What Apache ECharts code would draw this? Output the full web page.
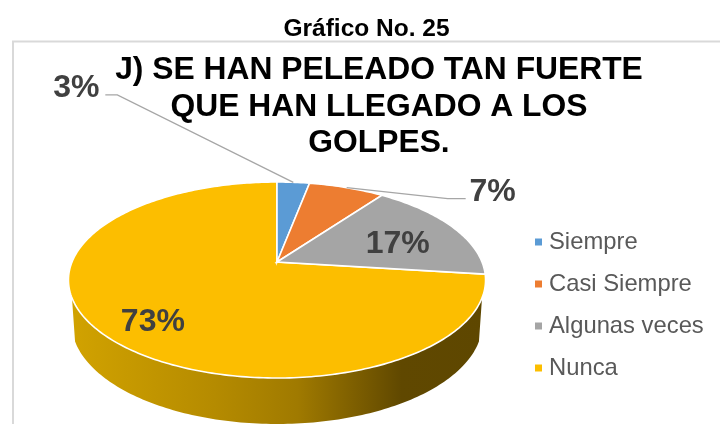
<!DOCTYPE html>
<html><head><meta charset="utf-8">
<style>html,body{margin:0;padding:0;background:#fff}#c{width:720px;height:424px}</style>
<script src="https://cdn.jsdelivr.net/npm/echarts@6/dist/echarts.min.js"></script>
</head><body><div id="c"></div>
<script>
const categories = ['Siempre', 'Casi Siempre', 'Algunas veces', 'Nunca'];
const values = [3, 7, 17, 73];
const colors = ['#5B9BD5', '#ED7D31', '#A5A5A5', '#FCBE00'];
const chartTitle = 'J) SE HAN PELEADO TAN FUERTE\nQUE HAN LLEGADO A LOS\nGOLPES.';
const figureTitle = 'Gráfico No. 25';

const FONT = '"Liberation Sans", Arial, sans-serif';
const P = {cx: 277, cy: 262, R: 205, a: 94.7, c: -0.1837, depth: 42.5};
// perspective projection of a point on the pie's rim (angle clockwise from 12 o'clock)
function rim(deg, k) {
  const t = deg * Math.PI / 180, u = Math.sin(t) * (k === undefined ? 1 : k), v = -Math.cos(t) * (k === undefined ? 1 : k);
  const w = 1 + P.c * v;
  return [P.cx + P.R * u / w, P.cy + P.a * v / w];
}
function arc(from, to) {
  const pts = [], n = Math.max(2, Math.ceil(Math.abs(to - from)));
  for (let i = 0; i <= n; i++) pts.push(rim(from + (to - from) * i / n));
  return pts;
}
const cumBefore = values.map((_, i) => values.slice(0, i).reduce((s, x) => s + x, 0));
const total = values.reduce((s, x) => s + x, 0);
const wallStops = [[0, '#D2A300'], [0.35, '#B58B00'], [0.55, '#A07A00'], [0.7, '#7A5C00'], [0.8, '#604800'], [1, '#5E4700']];
// label placement per slice: offset from the rim midpoint (leader) or inner radius (inside)
const labelPlacement = [
  {dx: -217, dy: -94, leader: [[-176, -87.5], [-188, -87.5]]},
  {dx: 146, dy: 5, leader: [[101, 11], [119, 11]]},
  {inner: 0.72, dx: -8, dy: 8},
  {inner: 0.62, dx: -21, dy: 18}
];

function renderSlice(index) {
  return function (params, api) {
    const value = api.value(0), start = api.value(1);
    const a0 = start / total * 360, a1 = (start + value) / total * 360, mid = (a0 + a1) / 2;
    const children = [];
    // the side wall is only visible on the front of the pie
    const wa0 = Math.max(a0, 110.8), wa1 = Math.min(a1, 249.2);
    if (wa1 > wa0) {
      const top = arc(wa0, wa1);
      const bottom = top.map(p => [P.cx + (p[0] - P.cx) * 0.985, P.cy + (p[1] - P.cy) * 1.03 + P.depth]).reverse();
      children.push({
        type: 'polygon', shape: {points: top.concat(bottom)},
        style: {fill: new echarts.graphic.LinearGradient(68, 0, 485, 0,
          wallStops.map(s => ({offset: s[0], color: s[1]})), true)}
      });
    }
    children.push({
      type: 'polygon', shape: {points: [[P.cx, P.cy]].concat(arc(a0, a1))},
      style: {fill: colors[index], stroke: '#fff', lineWidth: 1.6, lineJoin: 'miter'}
    });
    const lp = labelPlacement[index];
    let lx, ly;
    if (lp.inner) {
      const p = rim(mid, lp.inner);
      lx = p[0] + lp.dx; ly = p[1] + lp.dy;
    } else {
      const p = rim(mid);
      lx = p[0] + lp.dx; ly = p[1] + lp.dy;
      children.push({
        type: 'polyline', z2: 5,
        shape: {points: [p].concat(lp.leader.map(o => [p[0] + o[0], p[1] + o[1]]))},
        style: {fill: null, stroke: '#A6A6A6', lineWidth: 1.3}
      });
    }
    children.push({
      type: 'text', z2: 6,
      style: {text: value + '%', x: lx, y: ly, align: 'center', verticalAlign: 'middle',
        font: 'bold 32px ' + FONT, fill: '#404040'}
    });
    return {type: 'group', children};
  };
}

const chart = echarts.init(document.getElementById('c'), null, {renderer: 'canvas'});
chart.setOption({
  animation: false,
  backgroundColor: '#fff',
  color: colors,
  title: [
    {text: figureTitle, left: 361.5, top: 12, textAlign: 'center',
     textStyle: {fontFamily: FONT, fontWeight: 'bold', fontSize: 24.5, color: '#000'}},
    {text: chartTitle, left: 374, top: 47, textAlign: 'center',
     textStyle: {fontFamily: FONT, fontWeight: 'bold', fontSize: 31.8, lineHeight: 36.5, color: '#000'}}
  ],
  legend: {
    orient: 'vertical', left: 530, top: 225, icon: 'rect',
    itemWidth: 7, itemHeight: 7, itemGap: 18, data: categories,
    textStyle: {fontFamily: FONT, fontSize: 23.8, color: '#595959', padding: [0, 0, 0, 2]},
    selectedMode: false
  },
  graphic: [{type: 'rect', silent: true, z: -1,
    shape: {x: 13, y: 41.5, width: 760, height: 420},
    style: {fill: null, stroke: '#D9D9D9', lineWidth: 2}}],
  series: categories.map((name, i) => ({
    type: 'custom', name, coordinateSystem: 'none',
    z: i === 3 ? 2 : 3,
    itemStyle: {color: colors[i]},
    renderItem: renderSlice(i),
    data: [[values[i], cumBefore[i]]],
    silent: true, clip: false
  }))
});
</script></body></html>
